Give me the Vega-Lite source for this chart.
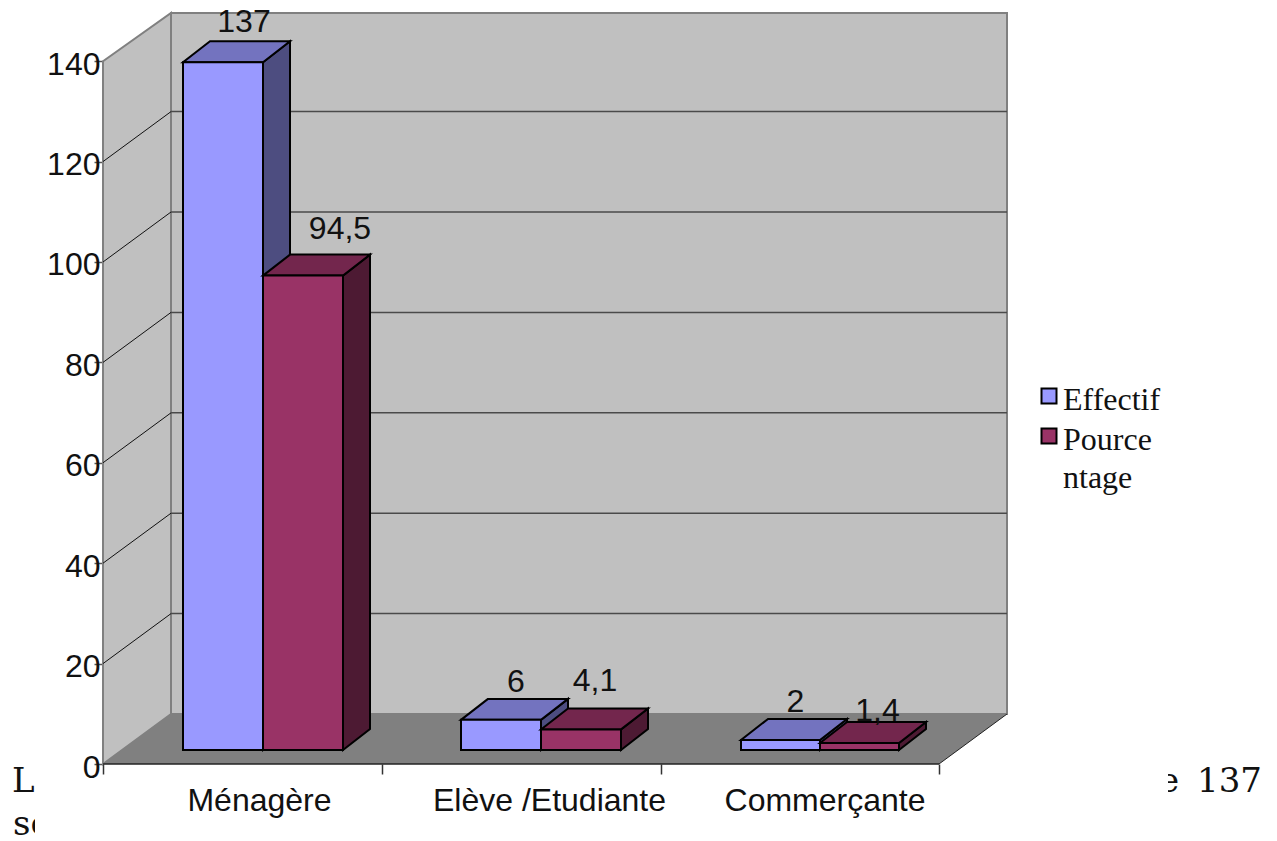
{
  "$schema": "https://vega.github.io/schema/vega-lite/v6.json",
  "width": 904,
  "height": 751,
  "autosize": "none",
  "padding": {"left": 103, "top": 13, "right": 270, "bottom": 77},
  "background": "white",
  "config": {
    "view": {"stroke": null},
    "text": {"font": "Liberation Sans", "fontSize": 32, "color": "#111111"},
    "axis": {"title": null, "grid": false, "domain": false},
    "axisX": {"labels": false, "tickSize": 10, "tickColor": "#333333", "tickWidth": 1.5},
    "axisY": {
      "tickSize": 9, "tickColor": "#555555", "tickWidth": 1.5,
      "labelFont": "Liberation Sans", "labelFontSize": 32, "labelColor": "#111111", "labelPadding": -6, "labelOffset": 3
    }
  },
  "datasets": {
    "bars": [
      {"category": "Ménagère", "series": "Effectif", "value": 137},
      {"category": "Ménagère", "series": "Pourcentage", "value": 94.5},
      {"category": "Elève /Etudiante", "series": "Effectif", "value": 6},
      {"category": "Elève /Etudiante", "series": "Pourcentage", "value": 4.1},
      {"category": "Commerçante", "series": "Effectif", "value": 2},
      {"category": "Commerçante", "series": "Pourcentage", "value": 1.4}
    ],
    "ticks": [
      {"tick": 20}, {"tick": 40}, {"tick": 60}, {"tick": 80}, {"tick": 100}, {"tick": 120}
    ],
    "sideWall": [
      {"xp": 0, "low": 0, "high": 140},
      {"xp": 68, "low": 9.96, "high": 149.6}
    ],
    "floor": [
      {"level": 0, "from": 0, "to": 836},
      {"level": 9.96, "from": 68, "to": 904}
    ],
    "one": [{}]
  },
  "layer": [
    {
      "data": {"name": "sideWall"},
      "mark": {"type": "area", "fill": "#C0C0C0", "stroke": "#808080", "strokeWidth": 2},
      "encoding": {
        "x": {
          "field": "xp", "type": "quantitative",
          "scale": {"domain": [0, 904], "nice": false, "zero": false},
          "axis": {"values": [0, 278.5, 557.5, 836]}
        },
        "y": {
          "field": "high", "type": "quantitative",
          "scale": {"domain": [0, 149.6], "nice": false, "zero": false},
          "axis": {"values": [0, 20, 40, 60, 80, 100, 120, 140]}
        },
        "y2": {"field": "low"}
      }
    },
    {
      "data": {"values": [{"a": 68, "b": 904, "c": 9.96, "d": 149.6}]},
      "mark": {"type": "rect", "fill": "#C0C0C0", "stroke": "#808080", "strokeWidth": 2},
      "encoding": {
        "x": {"field": "a", "type": "quantitative"},
        "x2": {"field": "b"},
        "y": {"field": "c", "type": "quantitative"},
        "y2": {"field": "d"}
      }
    },
    {
      "data": {"name": "floor"},
      "mark": {"type": "area", "orient": "horizontal", "fill": "#808080"},
      "encoding": {
        "y": {"field": "level", "type": "quantitative"},
        "x": {"field": "from", "type": "quantitative"},
        "x2": {"field": "to"}
      }
    },
    {
      "data": {"name": "ticks"},
      "transform": [{"calculate": "datum.tick + 9.96", "as": "back"}],
      "layer": [
        {
          "mark": {"type": "rule", "color": "#4a4a4a", "strokeWidth": 1.5},
          "encoding": {
            "x": {"datum": 68, "type": "quantitative"},
            "x2": {"datum": 904},
            "y": {"field": "back", "type": "quantitative"}
          }
        },
        {
          "mark": {"type": "rule", "color": "#111111", "strokeWidth": 1},
          "encoding": {
            "x": {"datum": 0, "type": "quantitative"},
            "x2": {"datum": 68},
            "y": {"field": "tick", "type": "quantitative"},
            "y2": {"field": "back"}
          }
        }
      ]
    },
    {
      "data": {"name": "one"},
      "mark": {"type": "rule", "color": "#222222", "strokeWidth": 1.5},
      "encoding": {
        "x": {"datum": 0, "type": "quantitative"},
        "x2": {"datum": 836},
        "y": {"datum": 0, "type": "quantitative"}
      }
    },
    {
      "data": {"name": "one"},
      "mark": {"type": "rule", "color": "#222222", "strokeWidth": 1},
      "encoding": {
        "x": {"datum": 836, "type": "quantitative"},
        "x2": {"datum": 904},
        "y": {"datum": 0, "type": "quantitative"},
        "y2": {"datum": 9.96}
      }
    },
    {
      "data": {"name": "bars"},
      "transform": [
        {"calculate": "{'Ménagère': 80, 'Elève /Etudiante': 358, 'Commerçante': 638}[datum.category]", "as": "groupStart"},
        {"calculate": "datum.category === 'Commerçante' ? 79 : 80", "as": "barWidth"},
        {"calculate": "datum.groupStart + (datum.series === 'Effectif' ? 0 : datum.barWidth)", "as": "left"},
        {"calculate": "datum.left + datum.barWidth", "as": "right"},
        {"calculate": "2.79", "as": "base"},
        {"calculate": "datum.base + datum.value", "as": "top"},
        {"calculate": "datum.left + datum.barWidth / 2 + {'137': 21, '94.5': 37, '6': 15, '4.1': 14, '2': 15, '1.4': 18}['' + datum.value]", "as": "labelX"},
        {"calculate": "datum.top + 3.98 + {'137': 10, '94.5': 17, '6': 8, '4.1': 18, '2': 8, '1.4': 2}['' + datum.value] / 5.02", "as": "labelY"},
        {"calculate": "replace('' + datum.value, '.', ',')", "as": "label"},
        {"calculate": "[0, 1]", "as": "depth"},
        {"flatten": ["depth"]},
        {"calculate": "datum.left + datum.depth * 27", "as": "topLeft"},
        {"calculate": "datum.right + datum.depth * 27", "as": "sideX"},
        {"calculate": "datum.base + datum.depth * 4.18", "as": "sideLow"},
        {"calculate": "datum.top + datum.depth * 4.18", "as": "sideHigh"}
      ],
      "layer": [
        {
          "transform": [{"filter": "datum.series === 'Effectif'"}],
          "mark": {"type": "area", "fill": "#4D4D80", "stroke": "black", "strokeWidth": 2},
          "encoding": {
            "x": {"field": "sideX", "type": "quantitative"},
            "y": {"field": "sideHigh", "type": "quantitative"},
            "y2": {"field": "sideLow"},
            "detail": {"field": "category"}
          }
        },
        {
          "transform": [{"filter": "datum.series === 'Effectif'"}],
          "mark": {"type": "area", "orient": "horizontal", "fill": "#7373BF", "stroke": "black", "strokeWidth": 2},
          "encoding": {
            "y": {"field": "sideHigh", "type": "quantitative"},
            "x": {"field": "topLeft", "type": "quantitative"},
            "x2": {"field": "sideX"},
            "detail": {"field": "category"}
          }
        },
        {
          "transform": [{"filter": "datum.series === 'Effectif' && datum.depth === 0"}],
          "mark": {"type": "rect", "stroke": "black", "strokeWidth": 2},
          "encoding": {
            "x": {"field": "left", "type": "quantitative"},
            "x2": {"field": "right"},
            "y": {"field": "base", "type": "quantitative"},
            "y2": {"field": "top"},
            "fill": {
              "field": "series", "type": "nominal",
              "scale": {"domain": ["Effectif", "Pourcentage"], "range": ["#9999FF", "#993366"]},
              "legend": {
                "orient": "none", "legendX": 930, "legendY": 367, "title": null, "padding": 0,
                "symbolType": "square", "symbolSize": 225, "symbolStrokeColor": "black", "symbolStrokeWidth": 2,
                "symbolOpacity": 1,
                "labelFont": "Liberation Serif", "labelFontSize": 32, "labelColor": "#111111",
                "labelLimit": 300, "labelOffset": -2, "labelBaseline": "alphabetic", "rowPadding": 4,
                "labelExpr": "datum.label === 'Pourcentage' ? ['Pource', 'ntage'] : datum.label",
                "encoding": {"labels": {"dy": {"value": 14}, "lineHeight": {"value": 38}}}
              }
            }
          }
        },
        {
          "transform": [{"filter": "datum.series === 'Pourcentage'"}],
          "mark": {"type": "area", "fill": "#4D1A33", "stroke": "black", "strokeWidth": 2},
          "encoding": {
            "x": {"field": "sideX", "type": "quantitative"},
            "y": {"field": "sideHigh", "type": "quantitative"},
            "y2": {"field": "sideLow"},
            "detail": {"field": "category"}
          }
        },
        {
          "transform": [{"filter": "datum.series === 'Pourcentage'"}],
          "mark": {"type": "area", "orient": "horizontal", "fill": "#73264D", "stroke": "black", "strokeWidth": 2},
          "encoding": {
            "y": {"field": "sideHigh", "type": "quantitative"},
            "x": {"field": "topLeft", "type": "quantitative"},
            "x2": {"field": "sideX"},
            "detail": {"field": "category"}
          }
        },
        {
          "transform": [{"filter": "datum.series === 'Pourcentage' && datum.depth === 0"}],
          "mark": {"type": "rect", "stroke": "black", "strokeWidth": 2},
          "encoding": {
            "x": {"field": "left", "type": "quantitative"},
            "x2": {"field": "right"},
            "y": {"field": "base", "type": "quantitative"},
            "y2": {"field": "top"},
            "fill": {"field": "series", "type": "nominal"}
          }
        },
        {
          "transform": [{"filter": "datum.depth === 0"}],
          "mark": {"type": "text", "baseline": "alphabetic", "align": "center"},
          "encoding": {
            "x": {"field": "labelX", "type": "quantitative"},
            "y": {"field": "labelY", "type": "quantitative"},
            "text": {"field": "label"}
          }
        }
      ]
    },
    {
      "data": {"values": [
        {"category": "Ménagère", "center": 156.5},
        {"category": "Elève /Etudiante", "center": 446.5},
        {"category": "Commerçante", "center": 722}
      ]},
      "mark": {"type": "text", "baseline": "alphabetic", "align": "center", "dy": 47},
      "encoding": {
        "x": {"field": "center", "type": "quantitative"},
        "y": {"datum": 0, "type": "quantitative"},
        "text": {"field": "category"}
      }
    },
    {
      "data": {"name": "one"},
      "mark": {"type": "text", "font": "DejaVu Serif", "fontSize": 34, "align": "left", "baseline": "alphabetic", "text": "L"},
      "encoding": {
        "x": {"datum": -91, "type": "quantitative"},
        "y": {"datum": -5.58, "type": "quantitative"}
      }
    },
    {
      "data": {"name": "one"},
      "mark": {"type": "text", "font": "DejaVu Serif", "fontSize": 34, "align": "left", "baseline": "alphabetic", "text": "se"},
      "encoding": {
        "x": {"datum": -90, "type": "quantitative"},
        "y": {"datum": -14.1, "type": "quantitative"}
      }
    },
    {
      "data": {"name": "one"},
      "mark": {"type": "text", "font": "DejaVu Serif", "fontSize": 34, "align": "right", "baseline": "alphabetic", "text": "137"},
      "encoding": {
        "x": {"datum": 1159, "type": "quantitative"},
        "y": {"datum": -5.58, "type": "quantitative"}
      }
    },
    {
      "data": {"name": "one"},
      "mark": {"type": "text", "font": "DejaVu Serif", "fontSize": 34, "align": "right", "baseline": "alphabetic", "text": "e"},
      "encoding": {
        "x": {"datum": 1076, "type": "quantitative"},
        "y": {"datum": -5.58, "type": "quantitative"}
      }
    },
    {
      "data": {"name": "one"},
      "mark": {"type": "rect", "fill": "white"},
      "encoding": {
        "x": {"datum": -68, "type": "quantitative"},
        "x2": {"datum": -43},
        "y": {"datum": -1.5, "type": "quantitative"},
        "y2": {"datum": -15.3}
      }
    },
    {
      "data": {"name": "one"},
      "mark": {"type": "rect", "fill": "white"},
      "encoding": {
        "x": {"datum": 1017, "type": "quantitative"},
        "x2": {"datum": 1065},
        "y": {"datum": -1.5, "type": "quantitative"},
        "y2": {"datum": -15.3}
      }
    }
  ]
}
